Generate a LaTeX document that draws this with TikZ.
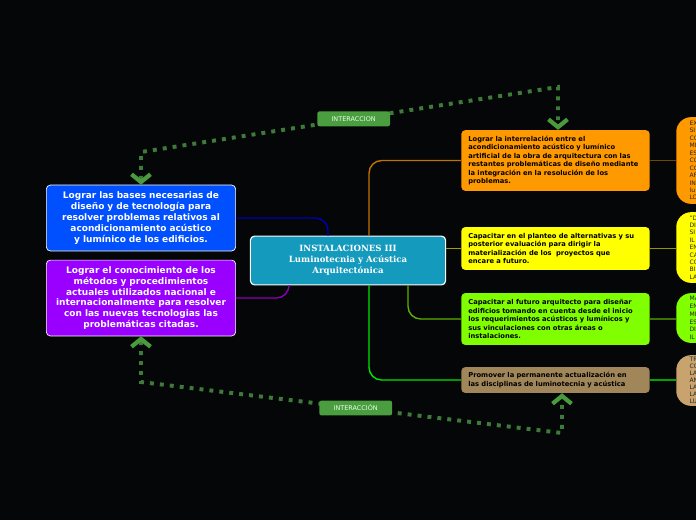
\documentclass[tikz,border=0pt]{standalone}
\usepackage{fontspec}
\setmainfont{DejaVu Sans}
\newfontfamily\titulo{DejaVu Serif}
\usepackage{xcolor}
\usepackage{tikz}
\usetikzlibrary{calc, arrows.meta, positioning}
\hyphenpenalty=10000

\definecolor{fondo}{HTML}{050608}
\definecolor{azul}{HTML}{0050FF}
\definecolor{morado}{HTML}{9900FF}
\definecolor{turquesa}{HTML}{139ABD}
\definecolor{naranja}{HTML}{FF9900}
\definecolor{amarillo}{HTML}{FFFF00}
\definecolor{lima}{HTML}{80FF00}
\definecolor{cafe}{HTML}{A08658}
\definecolor{cafeclaro}{HTML}{C9A36E}
\definecolor{verderel}{HTML}{3E7B3A}
\definecolor{verdeflecha}{HTML}{4A9A3E}
\definecolor{verdeetiq}{HTML}{4A9E3F}

\begin{document}
\begin{tikzpicture}[x=0.025cm, y=-0.025cm,
    meta/.style={draw=white!85, line width=0.5pt, rounded corners=2.8pt, text=white,
        minimum width=134.6pt, text width=123pt, align=center, inner sep=0pt,
        font=\fontsize{6.4}{7.8}\selectfont\bfseries},
    objetivo/.style={rounded corners=2.8pt, text=black, minimum width=133.9pt,
        text width=124pt, align=left, inner sep=0pt,
        font=\fontsize{4.8}{6}\selectfont\bfseries},
    nota/.style={rounded corners=10.6pt, text=black!85, minimum width=70.9pt,
        text width=52pt, inner xsep=9.2pt, inner ysep=0pt, align=left, anchor=west},
    rama/.style={line width=1pt, rounded corners=9pt},
    relacion/.style={draw=verderel, line width=2.8pt, line cap=butt,
        dash pattern=on 2.8pt off 4.3pt},
    etiqueta/.style={fill=verdeetiq, text=white!90!green, rounded corners=1.5pt,
        minimum width=51.7pt, minimum height=10.6pt, inner sep=0pt,
        font=\fontsize{4.6}{5}\selectfont},
    chev/.tip={Straight Barb[length=5.5pt, width=13.5pt, line width=3pt, color=verdeflecha]}]

    % --- FONDO ---
    \useasboundingbox (0,0) rectangle (696,520);
    \fill[fondo] (0,0) rectangle (696,520);

    % --- NODO CENTRAL ---
    \node[draw=white, line width=0.8pt, fill=turquesa, rounded corners=3pt, text=white,
        minimum width=138.9pt, minimum height=34.7pt, inner sep=0pt, align=center,
        font=\titulo\fontsize{6.1}{7.8}\selectfont\bfseries]
        (centro) at (348,260.5) {INSTALACIONES III\\ Luminotecnia y Acústica\\ Arquitectónica};

    % --- OBJETIVOS A LA IZQUIERDA ---
    \node[meta, fill=azul, minimum height=46.8pt] (bases) at (141,218)
        {Lograr las bases necesarias de\\ diseño y de tecnología para\\ resolver problemas relativos al\\ acondicionamiento acústico\\ y lumínico de los edificios.};
    \node[meta, fill=morado, minimum height=53.9pt] (metodos) at (141,298)
        {Lograr el conocimiento de los\\ métodos y procedimientos\\ actuales utilizados nacional e\\ internacionalmente para resolver\\ con las nuevas tecnologias las\\ problemáticas citadas.};

    % --- OBJETIVOS A LA DERECHA ---
    \node[objetivo, fill=naranja, minimum height=43.2pt] (interrel) at (555.5,160.5)
        {Lograr la interrelación entre el\\ acondicionamiento acústico y lumínico\\ artificial de la obra de arquitectura con las\\ restantes problemáticas de diseño mediante\\ la integración en la resolución de los\\ problemas.};
    \node[objetivo, fill=amarillo, minimum height=30.5pt] (planteo) at (555.5,248.5)
        {Capacitar en el planteo de alternativas y su\\ posterior evaluación para dirigir la\\ materialización de los\ \ proyectos que\\ encare a futuro.};
    \node[objetivo, fill=lima, minimum height=36.9pt] (disenar) at (555.5,319)
        {Capacitar al futuro arquitecto para diseñar\\ edificios tomando en cuenta desde el inicio\\ los requerimientos acústicos y lumínicos y\\ sus vinculaciones con otras áreas o\\ instalaciones.};
    \node[objetivo, fill=cafe, minimum height=18.4pt] (promover) at (555.5,380)
        {Promover la permanente actualización en\\ las disciplinas de luminotecnia y acústica};

    % --- NOTAS CORTADAS EN EL BORDE ---
    \node[nota, fill=naranja, minimum height=61.7pt, font=\fontsize{4.3}{5.3}\selectfont] (nota1) at (676,160.5)
        {EX\\ SI\\ CO\\ MI\\ ES\\ CO\\ CO\\ AF\\ IN\\ lu\\ LO};
    \node[nota, fill=amarillo, minimum height=50.3pt, font=\fontsize{4.3}{5.25}\selectfont] (nota2) at (676,247.5)
        {"D\\ DI\\ SI\\ IL\\ EN\\ CA\\ CO\\ BI\\ LA};
    \node[nota, fill=lima, minimum height=35.4pt, font=\fontsize{4.3}{5.5}\selectfont] (nota3) at (676,318)
        {MA\\ EN\\ MI\\ ES\\ DI\\ IL};
    \node[nota, fill=cafeclaro, minimum height=36.1pt, font=\fontsize{4.3}{4.95}\selectfont] (nota4) at (676,380.5)
        {TR\\ CO\\ LA\\ AN\\ LA\\ LA\\ LU};

    % --- RAMAS ---
    \draw[rama, draw=blue!70!black] (bases.east) -| ($(centro.north)+(-20,0)$);
    \draw[rama, draw=violet!60!morado] (metodos.east) -| ($(centro.south)+(-59,0)$);
    \draw[rama, draw=naranja!75!black] (interrel.west) -| ($(centro.north)+(21,0)$);
    \draw[rama, draw=olive!80!yellow] (planteo.west) -- (planteo.west -| centro.east);
    \draw[rama, draw=lima!70!black] (disenar.west) -| ($(centro.south)+(60,0)$);
    \draw[rama, draw=green!90!black] (promover.west) -| ($(centro.south)+(21,0)$);

    \draw[line width=1pt, draw=naranja!45!black] (interrel.east) -- (interrel.east -| nota1.west);
    \draw[line width=1pt, draw=olive!90!yellow] (planteo.east) -- (planteo.east -| nota2.west);
    \draw[line width=1pt, draw=lima!45!black] (disenar.east) -- (disenar.east -| nota3.west);
    \draw[line width=1pt, draw=green!65!black] (promover.east) -- (promover.east -| nota4.west);

    % --- RELACIONES (INTERACCION) ---
    \coordinate (t1) at (142,152);
    \coordinate (t2) at (558,87);
    \coordinate (b1) at (143,382);
    \coordinate (b2) at (562,433);
    \draw[relacion, chev-chev] (bases.north) -- (bases.north |- t1)
        -- node[etiqueta, pos=0.51] (inter1) {INTERACCION} (t2)
        -- ($(interrel.north)+(2.5,0)$);
    \draw[relacion, chev-chev] (metodos.south) -- (metodos.south |- b1)
        -- node[etiqueta, pos=0.51] (inter2) {INTERACCIÓN} (b2)
        -- ($(promover.south)+(6.5,0)$);
\end{tikzpicture}
\end{document}
